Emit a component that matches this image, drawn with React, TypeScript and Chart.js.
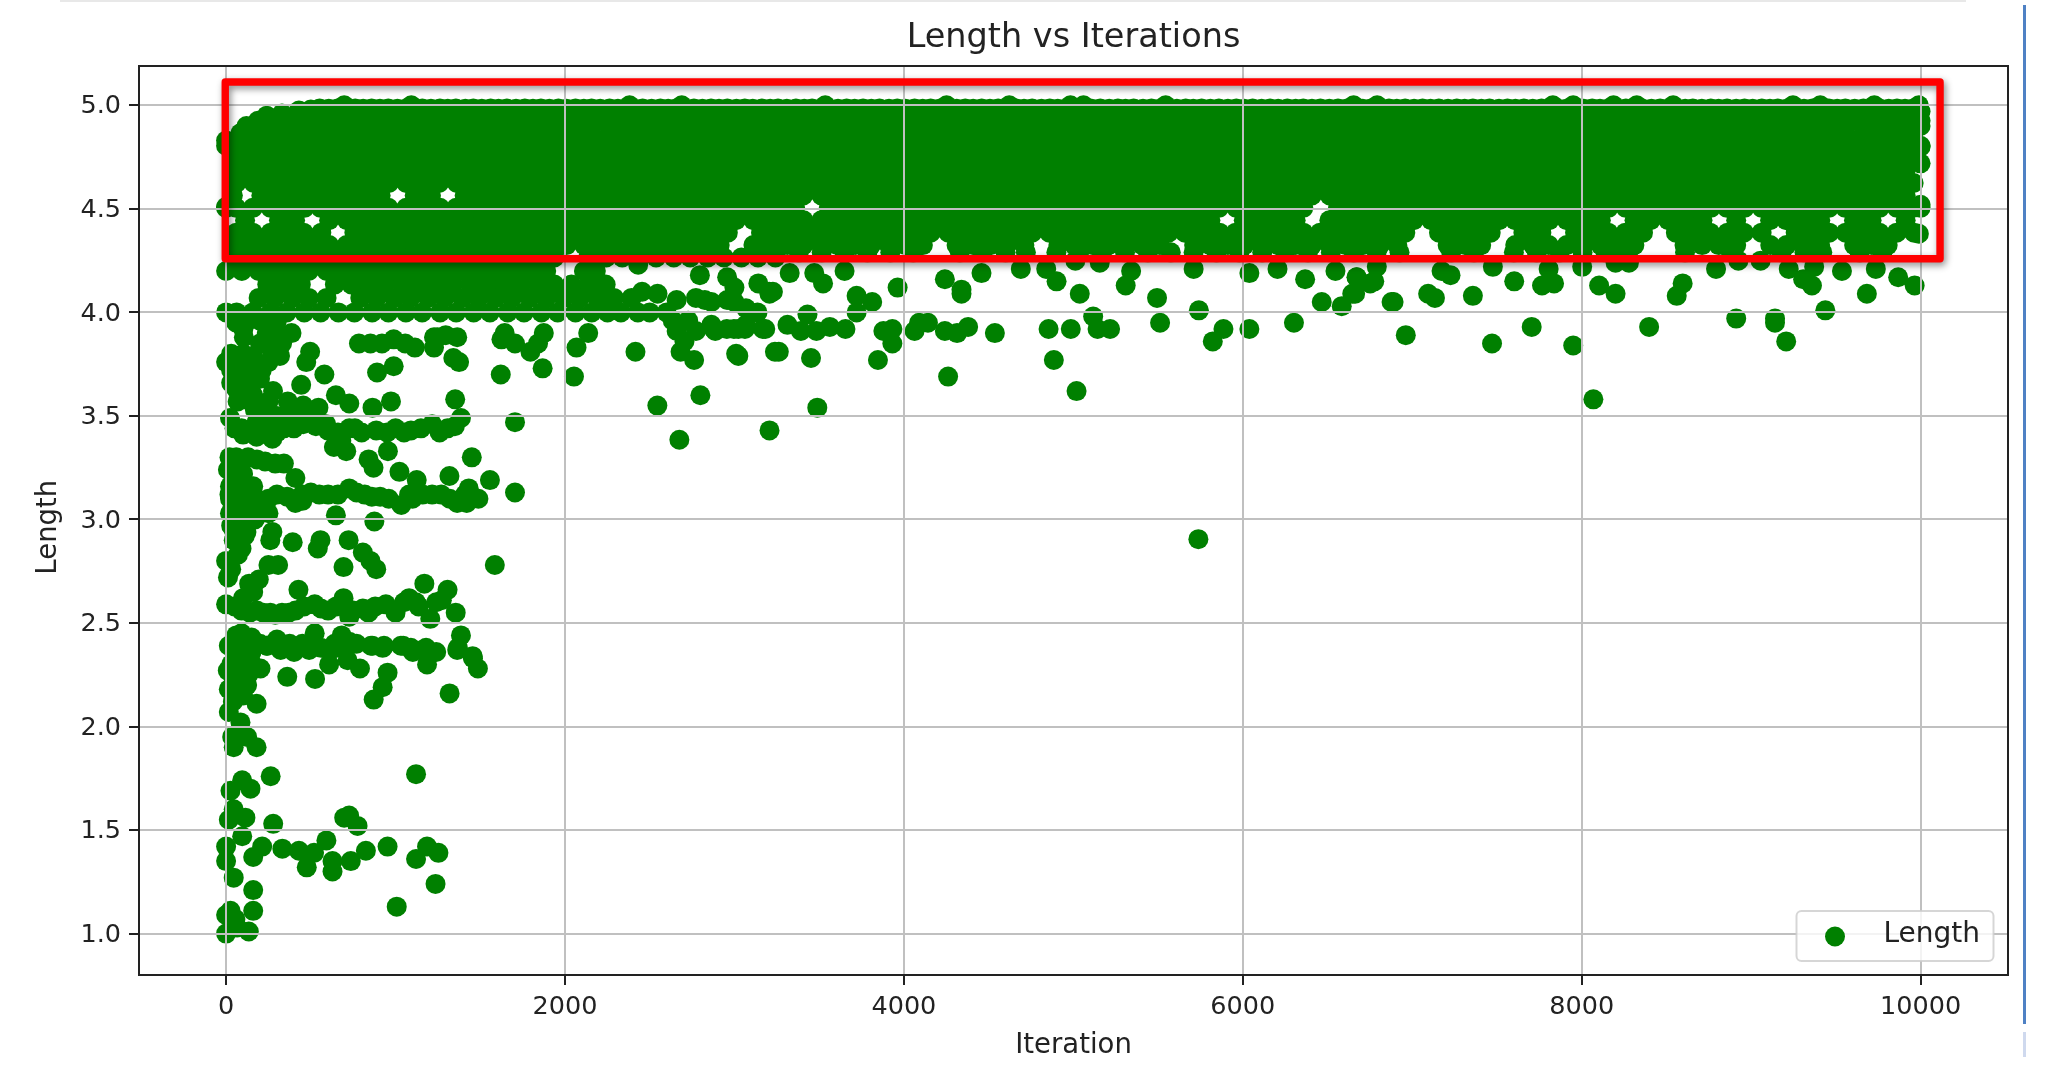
import React, { useEffect, useRef } from "react";
import { Chart, registerables } from "chart.js";

Chart.register(...registerables);

const chartTitle = "Length vs Iterations";
const xAxisLabel = "Iteration";
const yAxisLabel = "Length";
const seriesLabel = "Length";
const iterationTicks = [0, 2000, 4000, 6000, 8000, 10000];
const lengthTicks = [1.0, 1.5, 2.0, 2.5, 3.0, 3.5, 4.0, 4.5, 5.0];

const row4985 = [4.985, 552,658,762,859,957,1063,1158,1262,1356,1459,1561,1657,1763,1858,1961,2062,2157,2263,2359,2458,2563,2656,2761,2862,2958,3061,3162,3257,3363,3458,3557,3662,3759,3856,3961,4063,4158,4257,4362,4459,4556,4663,4757,4861,4958,5062,5159,5263,5356,5461,5558,5663,5757,5859,5962,6058,6161,6263,6357,6458,6562,6659,6757,6863,6958,7061,7157,7263,7358,7456,7562,7659,7763,7857,7959,8062,8158,8261,8357,8463,8559,8656,8762,8858,8961,9063,9157,9258,9362,9459,9556,9663,9758,9861,9957];
const row4984 = [4.984, 606,711,809,908,1011,1112,1209,1308,1412,1509,1608,1711,1811,1908,2009,2111,2208,2312,2409,2511,2609,2708,2811,2909,3012,3108,3211,3309,3412,3508,3611,3709,3808,3912,4009,4111,4208,4312,4409,4508,4611,4709,4812,4908,5011,5109,5212,5308,5411,5509,5611,5708,5809,5912,6008,6111,6209,6312,6408,6511,6609,6708,6812,6909,7011,7108,7211,7309,7408,7512,7609,7711,7808,7909,8012,8108,8211,8309,8412,8508,8611,8709,8808,8912,9009,9111,9208,9312,9409,9508,9611,9709,9812,9908];
const row4925 = [4.925, 188,312,408,513,607,711,806,912,1008,1113,1207,1311,1409,1512,1607,1714,1808,1912,2008,2113,2209,2311,2407,2513,2608,2712,2806,2913,3009,3112,3207,3311,3408,3513,3607,3711,3809,3912,4006,4113,4209,4312,4407,4511,4608,4713,4806,4912,5009,5112,5207,5311,5408,5513,5607,5711,5809,5912,6006,6113,6209,6312,6407,6511,6608,6713,6806,6912,7009,7112,7207,7311,7408,7513,7607,7711,7809,7912,8006,8113,8209,8312,8407,8511,8608,8713,8806,8912,9009,9112,9207,9311,9408,9513,9607,9711,9809,9912,10000];
const row4865 = [4.865, 84,163,258,357,461,563,658,762,859,957,1063,1158,1262,1356,1459,1561,1657,1763,1858,1961,2062,2157,2263,2359,2458,2563,2656,2761,2862,2958,3061,3162,3257,3363,3458,3557,3662,3759,3856,3961,4063,4158,4257,4362,4459,4556,4663,4757,4861,4958,5062,5159,5263,5356,5461,5558,5663,5757,5859,5962,6058,6161,6263,6357,6458,6562,6659,6757,6863,6958,7061,7157,7263,7358,7456,7562,7659,7763,7857,7959,8062,8158,8261,8357,8463,8559,8656,8762,8858,8961,9063,9157,9258,9362,9459,9556,9663,9758,9861,9957];
const row4805 = [4.805, 0,62,112,208,312,407,511,608,713,806,912,1009,1112,1207,1311,1408,1513,1607,1711,1809,1912,2006,2113,2209,2312,2407,2511,2608,2713,2806,2912,3009,3112,3207,3311,3408,3513,3607,3711,3809,3912,4006,4113,4209,4312,4407,4511,4608,4713,4806,4912,5009,5112,5207,5311,5408,5513,5607,5711,5809,5912,6006,6113,6209,6312,6407,6511,6608,6713,6806,6912,7009,7112,7207,7311,7408,7513,7607,7711,7809,7912,8006,8113,8209,8312,8407,8511,8608,8713,8806,8912,9009,9112,9207,9311,9408,9513,9607,9711,9809,9912,10000];
const row4745 = [4.745, 60,158,263,358,457,562,661,757,863,958,1061,1157,1263,1358,1456,1562,1659,1763,1857,1959,2062,2158,2261,2357,2463,2559,2656,2762,2858,2961,3063,3157,3258,3362,3459,3556,3663,3758,3861,3957,4062,4158,4263,4356,4461,4558,4663,4757,4859,4962,5058,5161,5263,5357,5458,5562,5659,5757,5863,5958,6061,6157,6263,6358,6456,6562,6659,6763,6857,6959,7062,7158,7261,7357,7463,7559,7656,7762,7858,7961,8063,8157,8258,8362,8459,8556,8663,8758,8861,8957,9062,9158,9263,9356,9461,9558,9663,9757,9859,9962];
const row4685 = [4.685, 40,113,209,311,407,512,608,711,809,913,1006,1112,1208,1312,1407,1511,1609,1713,1806,1912,2009,2113,2207,2311,2408,2512,2607,2711,2809,2913,3006,3112,3209,3312,3407,3511,3608,3713,3806,3912,4009,4112,4207,4311,4408,4513,4607,4711,4809,4912,5006,5113,5209,5312,5407,5511,5608,5713,5806,5912,6009,6112,6207,6311,6408,6513,6607,6711,6809,6912,7006,7113,7209,7312,7407,7511,7608,7713,7806,7912,8009,8112,8207,8311,8408,8513,8607,8711,8809,8912,9006,9113,9209,9312,9407,9511,9608,9713,9806,9912];
const row4625 = [4.625, 61,163,257,361,458,556,662,759,856,961,1063,1158,1257,1362,1459,1556,1663,1758,1861,1957,2062,2158,2263,2356,2461,2558,2663,2757,2859,2962,3058,3161,3263,3357,3458,3562,3659,3757,3863,3958,4061,4157,4263,4358,4456,4562,4659,4763,4857,4959,5062,5158,5261,5357,5463,5559,5656,5762,5858,5961,6063,6157,6258,6362,6459,6556,6663,6758,6861,6957,7062,7158,7263,7356,7461,7558,7663,7757,7859,7962,8058,8161,8263,8357,8458,8562,8659,8757,8863,8958,9061,9157,9263,9358,9456,9562,9659,9763,9857,9959];
const row4565 = [4.565, 40,208,312,407,513,607,711,809,912,1113,1209,1408,1512,1607,1713,1806,1911,2009,2112,2207,2313,2408,2511,2609,2712,2806,2913,3007,3111,3209,3312,3406,3513,3608,3711,3807,3912,4009,4113,4206,4311,4408,4512,4607,4713,4809,4911,5006,5112,5209,5313,5407,5511,5608,5712,5806,5913,6009,6111,6207,6312,6408,6513,6607,6711,6809,6912,7006,7113,7208,7311,7407,7512,7609,7713,7806,7911,8008,8112,8207,8313,8409,8511,8606,8712,8809,8913,9007,9111,9208,9312,9406,9513,9609,9711,9807,9912];
const row4505 = [4.505, 0,60,158,263,357,462,558,663,757,861,958,1063,1157,1262,1358,1457,1561,1662,1758,1857,1962,2058,2161,2263,2357,2458,2562,2659,2757,2863,2958,3061,3157,3263,3358,3557,3662,3759,3856,3961,4063,4158,4257,4362,4459,4556,4663,4757,4861,4958,5062,5159,5263,5356,5461,5558,5663,5757,5859,5962,6058,6161,6263,6357,6562,6659,6757,6863,6958,7061,7157,7263,7358,7456,7562,7659,7763,7857,7959,8062,8158,8261,8357,8463,8559,8656,8762,8858,8961,9063,9157,9258,9362,9459,9556,9663,9758,9861,9957,10000];
const row4445 = [4.445, 112,312,407,608,713,806,912,1009,1112,1207,1311,1408,1513,1607,1711,1809,1912,2006,2113,2209,2312,2407,2511,2608,2713,2806,2912,3009,3112,3207,3311,3408,3513,3607,3711,3809,3912,4006,4113,4209,4312,4407,4511,4608,4713,4806,4912,5009,5112,5207,5311,5408,5513,5607,5711,5809,6006,6113,6209,6312,6511,6608,6713,6806,6912,7009,7112,7207,7311,7408,7513,7607,7711,7809,7912,8006,8113,8312,8407,8511,8608,8713,8912,9112,9207,9311,9408,9607,9711,9912];
const row4385 = [4.385, 60,158,263,358,457,562,757,863,958,1061,1157,1263,1358,1456,1562,1659,1763,1857,1959,2062,2158,2261,2357,2463,2559,2656,2762,2858,2961,3157,3258,3362,3459,3556,3663,3758,3861,3957,4062,4158,4263,4356,4461,4558,4663,4757,4859,4962,5058,5161,5263,5357,5458,5562,5659,5757,5863,5958,6061,6157,6263,6358,6456,6562,6659,6763,6857,6959,7158,7261,7357,7463,7656,7762,7961,8063,8157,8258,8362,8556,8663,8758,8861,8957,9062,9263,9356,9461,9558,9663,9757,9859,9962];
const row4325 = [4.325, 40,113,209,311,407,512,608,711,809,913,1006,1112,1208,1312,1407,1511,1609,1713,1806,1912,2009,2113,2207,2311,2408,2512,2607,2711,2809,2913,3112,3209,3312,3407,3511,3608,3713,3806,3912,4009,4112,4311,4408,4513,4607,4711,4912,5006,5113,5209,5312,5407,5511,5713,5806,5912,6009,6112,6207,6311,6408,6513,6607,6711,6809,6912,7209,7312,7407,7608,7713,7806,7912,8009,8112,8207,8311,8607,8711,8809,8912,9113,9209,9312,9407,9608,9713,9806];
const row4290 = [4.29, 3110,3245,3380,3515,3650,3785,3920,4055,4330,4465,4600,4720,4900,5035,5170,5305,5440,5575,5710,5845,5980,6115,6250,6385,6520,6655,6790,6925,7230,7365,7600,7735,7870,8005,8140,8275,8610,8880,9180,9315,9420,9640,9775];
const row4265 = [4.265, 42,138,243,339,441,538,642,739,843,938,1041,1139,1242,1337,1442,1538,1641,1739,1843,1937,2138,2243,2338,2441,2538,2642,2739,2843,2938,3041,3139,3242];
const row4200 = [4.2, 0,93,192,287,392,488,593,689,792,888,993,1087,1192,1288,1393,1489,1591,1687,1792,1889,2112];
const row4135 = [4.135, 243,338,441,642,739,843,938,1041,1139,1242,1337,1442,1538,1641,1739,1843,1937,2038,2141,2240];
const row4070 = [4.07, 192,287,392,488,593,792,888,993,1087,1192,1288,1393,1489,1591,1687,1792,1889,1993,2088,2192,2289,2393];
const row4000 = [4.0, 0,62,158,263,358,461,558,663,757,862,958,1061,1157,1263,1358,1461,1557,1662,1758,1861,1957,2062,2158,2251,2330,2430,2500,2600];
const topBumps = [5.0, 697,1093,2381,2689,3536,4252,4622,4983,5060,5545,6654,6793,7830,7950,8188,8325,8540,9247,9408,9727,9990];

// Scattered marks, each [iteration, length].
const upperEdgeLeft = [[0,4.83],[0,4.51],[120,4.9],[240,4.95],[330,4.96],[430,4.975],[500,4.98],[10000,4.97],[10000,4.9],[10000,4.8],[10000,4.72],[10000,4.52],[9990,4.38],[2796,4.18],[2182,4.2],[2432,4.23],[2455,4.1],[2546,4.09],[2659,4.06],[2773,4.07],[2864,4.05],[3000,4.12],[3000,4.05],[3068,4.02],[3136,4.0],[3205,4.1],[2636,3.96],[2727,3.96],[2864,3.94],[2955,3.92],[3068,3.94],[3227,4.1]];
const nearFourLeft = [[784,3.85],[852,3.85],[920,3.85],[989,3.87],[1057,3.85],[1114,3.83],[1227,3.88],[1296,3.89],[1364,3.88],[1227,3.83],[1341,3.78],[1375,3.76],[1625,3.87],[1705,3.85],[1796,3.81],[1875,3.9],[1841,3.85],[2068,3.83],[2137,3.9],[2416,3.81],[2682,3.81],[2762,3.77],[2705,3.86],[2659,3.91],[2773,3.91],[3023,3.79],[3262,3.81],[2887,3.91],[3023,3.92],[3182,3.92],[496,3.81],[473,3.76],[580,3.7],[989,3.74],[891,3.71],[1621,3.7],[1868,3.73],[2053,3.69],[0,3.76],[68,3.79],[159,3.79],[68,3.73],[159,3.73],[68,3.68],[148,3.66],[250,3.76],[318,3.79],[386,3.9],[102,3.92],[295,3.92],[277,3.62],[443,3.65],[105,3.88],[275,3.9],[1248,3.88],[1644,3.9]];
const massNearFour = [[30,3.8],[100,3.8],[30,3.72],[110,3.75],[210,3.72],[110,3.68],[30,3.66],[200,3.68],[100,3.62],[160,3.6],[60,3.63],[200,3.85],[260,3.83],[330,3.85],[130,3.96],[200,3.96],[300,3.96],[240,3.9],[60,3.95]];
const nearThreeFive = [[68,3.57],[23,3.49],[91,3.44],[250,3.57],[364,3.57],[455,3.55],[545,3.54],[648,3.6],[727,3.56],[864,3.54],[973,3.57],[1352,3.58],[250,3.45],[341,3.44],[455,3.46],[591,3.46],[727,3.44],[886,3.43],[1000,3.44],[1091,3.43],[1216,3.46],[1307,3.44],[1386,3.49],[1705,3.47],[273,3.39],[636,3.35],[709,3.33],[841,3.29],[870,3.25],[955,3.33],[1450,3.3]];
const massThreeFive = [[110,3.58],[170,3.53],[230,3.52],[300,3.5],[360,3.5],[430,3.5],[520,3.5],[180,3.47],[300,3.42],[400,3.44],[530,3.45],[50,3.44],[100,3.41],[180,3.4],[600,3.43],[660,3.42],[760,3.44],[800,3.42],[950,3.42],[1050,3.42],[1150,3.44],[1260,3.42],[1350,3.45],[680,3.38],[660,3.4]];
const nearThree = [[11,3.24],[91,3.29],[182,3.29],[341,3.27],[409,3.2],[23,3.16],[23,3.1],[91,3.13],[182,3.1],[250,3.1],[409,3.08],[500,3.13],[602,3.12],[727,3.15],[818,3.12],[909,3.11],[1023,3.23],[1125,3.19],[1318,3.21],[1216,3.12],[1364,3.08],[1432,3.15],[1489,3.1],[1557,3.19],[1705,3.13],[1034,3.07],[648,3.02],[875,2.99],[23,3.03],[114,3.03],[250,3.03],[91,2.97],[273,2.94],[261,2.9],[393,2.89],[557,2.9],[541,2.86],[723,2.9],[807,2.84],[886,2.76],[852,2.8],[693,2.77],[1586,2.78],[0,2.8],[11,2.72],[91,2.86],[45,2.9],[250,2.78],[307,2.78],[136,2.69],[193,2.71],[427,2.66]];
const massThree = [[20,3.3],[60,3.3],[130,3.3],[230,3.28],[290,3.27],[40,3.22],[100,3.22],[50,3.18],[100,3.18],[160,3.16],[60,3.08],[140,3.08],[20,3.12],[60,3.0],[110,2.98],[170,3.0],[220,3.06],[60,2.94],[120,2.94],[30,2.97],[300,3.12],[360,3.11],[450,3.12],[550,3.12],[660,3.12],[770,3.13],[860,3.11],[960,3.1],[1080,3.12],[1160,3.12],[1270,3.12],[1100,3.1],[1320,3.1],[1410,3.12],[450,3.09],[1420,3.08],[45,2.95],[110,2.92],[70,2.83],[30,2.76]];
const nearTwoFive = [[0,2.59],[91,2.56],[182,2.56],[261,2.55],[330,2.55],[409,2.56],[523,2.59],[602,2.56],[693,2.62],[807,2.57],[727,2.53],[943,2.59],[1000,2.55],[1080,2.62],[1136,2.58],[1170,2.69],[1205,2.52],[1273,2.61],[1307,2.66],[1355,2.55],[91,2.45],[23,2.39],[114,2.4],[239,2.39],[375,2.4],[523,2.45],[682,2.44],[727,2.41],[864,2.39],[932,2.39],[1045,2.39],[1159,2.37],[1386,2.44],[1364,2.37],[1455,2.34]];
const massTwoFive = [[50,2.58],[140,2.55],[220,2.55],[290,2.54],[370,2.55],[460,2.58],[560,2.57],[650,2.58],[750,2.56],[880,2.58],[1050,2.6],[1120,2.6],[1240,2.6],[840,2.55],[100,2.62],[160,2.65],[60,2.44],[150,2.43],[60,2.36],[150,2.36],[200,2.4],[300,2.42],[640,2.4],[450,2.4],[560,2.38],[670,2.38],[770,2.4],[1090,2.38],[1240,2.36],[30,2.3],[100,2.28],[60,2.24],[100,2.24],[130,2.25],[40,2.2],[100,2.15],[40,2.12]];
const nearTwo = [[16,2.39],[105,2.39],[243,2.39],[322,2.37],[401,2.36],[490,2.37],[618,2.37],[717,2.4],[855,2.39],[924,2.38],[1032,2.39],[1102,2.36],[1180,2.38],[1368,2.38],[1457,2.33],[1486,2.28],[10,2.27],[65,2.31],[144,2.32],[203,2.28],[361,2.24],[525,2.23],[608,2.3],[717,2.32],[790,2.28],[1186,2.3],[953,2.26],[924,2.19],[871,2.13],[1319,2.16],[16,2.18],[65,2.15],[124,2.2],[180,2.11],[16,2.07],[85,2.02],[36,1.95],[45,1.9],[124,1.95],[180,1.9]];
const lowLeft = [[263,1.76],[1121,1.77],[95,1.74],[26,1.69],[144,1.7],[45,1.6],[16,1.55],[114,1.56],[278,1.53],[726,1.57],[697,1.56],[776,1.52],[95,1.47],[0,1.42],[0,1.35],[45,1.27],[160,1.37],[213,1.42],[332,1.41],[430,1.4],[519,1.39],[476,1.32],[592,1.45],[628,1.35],[628,1.3],[736,1.35],[825,1.4],[953,1.42],[1121,1.36],[1186,1.42],[1253,1.39],[1236,1.24],[160,1.21],[160,1.11],[1007,1.13],[26,1.11],[0,1.09],[55,1.07],[0,1.0],[65,1.03],[134,1.01]];
const middleSparse = [[2957,4.17],[2825,4.06],[2957,4.06],[2878,3.92],[2997,3.92],[3062,3.92],[3168,3.92],[3313,3.94],[3431,3.99],[3392,3.91],[3484,3.91],[3563,3.93],[3655,3.92],[3721,4.08],[3813,4.05],[3721,4.0],[3963,4.12],[3879,3.91],[3932,3.92],[3932,3.85],[4063,3.91],[4090,3.95],[4142,3.95],[4242,3.91],[4314,3.9],[4379,3.93],[4537,3.9],[4854,3.92],[4985,3.92],[5117,3.98],[5143,3.92],[5217,3.92],[5512,3.95],[5741,4.01],[5494,4.07],[5886,3.92],[5823,3.86],[6039,3.92],[6302,3.95],[6466,4.05],[6584,4.03],[6663,4.09],[6776,4.15],[6890,4.05],[6671,4.17],[6547,4.2],[6368,4.16],[6205,4.21],[6039,4.19],[5710,4.21],[5309,4.13],[5341,4.2],[5038,4.09],[4901,4.15],[4840,4.21],[4690,4.21],[4458,4.19],[4340,4.11],[4340,4.09],[4242,4.16],[3326,4.19],[3471,4.19],[3523,4.14],[3650,4.2],[3207,4.09],[3141,4.14],[3010,3.8],[3239,3.81],[3452,3.78],[3847,3.77],[4261,3.69],[4885,3.77],[5019,3.62],[3489,3.54],[3207,3.43],[2799,3.6],[5012,4.25],[5156,4.24],[2675,3.385],[2545,3.55],[5738,2.905]];
const rightSparse = [[6646,4.09],[6752,4.14],[6673,4.17],[6878,4.05],[6791,4.22],[6962,3.89],[7094,4.09],[7134,4.07],[7173,4.2],[7226,4.18],[7358,4.08],[7476,4.22],[7471,3.85],[7602,4.15],[7705,3.93],[7766,4.13],[7805,4.21],[7837,4.14],[7950,3.84],[8003,4.22],[8103,4.13],[8200,4.09],[8069,3.58],[8200,4.24],[8279,4.24],[8398,3.93],[8561,4.08],[8596,4.14],[8793,4.21],[8912,3.97],[9141,3.97],[9141,3.95],[9207,3.86],[9438,4.01],[9222,4.21],[9307,4.16],[9359,4.13],[9372,4.22],[9536,4.2],[9683,4.09],[9736,4.21],[9868,4.17],[9965,4.13],[8925,4.25],[9056,4.25]];

const bandRows = [row4985,row4984,row4925,row4865,row4805,row4745,row4685,row4625,row4565,row4505,row4445,row4385,row4325,row4290,row4265,row4200,row4135,row4070,row4000,topBumps];
const scatterGroups = [upperEdgeLeft,nearFourLeft,massNearFour,nearThreeFive,massThreeFive,nearThree,massThree,nearTwoFive,massTwoFive,nearTwo,lowLeft,middleSparse,rightSparse];

const points = [
  ...bandRows.flatMap(([length, ...iterations]) => iterations.map((x) => ({ x, y: length }))),
  ...scatterGroups.flatMap((group) => group.map(([x, y]) => ({ x, y }))),
];

// Highlight rectangle, in data units.
const highlightIterations = [-5, 10115];
const highlightLengths = [4.259, 5.113];

export default function App() {
  const ref = useRef<HTMLCanvasElement>(null);
  const overlayRef = useRef<HTMLCanvasElement>(null);
  useEffect(() => {
    const frameAndNotes = {
      id: "frameAndNotes",
      beforeDraw(chart: any) {
        const y = chart.scales.y;
        y.getLabelItems(chart.chartArea).forEach((item: any) => {
          item.options.translation = [item.options.translation[0], item.options.translation[1] + 1.5];
        });
        const drawAxisTitle = y.drawTitle;
        y.drawTitle = function () {
          chart.ctx.save();
          chart.ctx.translate(0, 6.7);
          drawAxisTitle.call(y);
          chart.ctx.restore();
        };
      },
      afterDraw(chart: any) {
        const { ctx, chartArea: a, scales } = chart;
        ctx.save();
        ctx.strokeStyle = "#222";
        ctx.lineWidth = 2;
        ctx.strokeRect(a.left, a.top, a.right - a.left, a.bottom - a.top);

        const lx = a.right - 211.5;
        const ly = a.bottom - 64;
        const lw = 197;
        const lh = 50;
        ctx.beginPath();
        ctx.roundRect(lx, ly, lw, lh, 5);
        ctx.fillStyle = "rgba(255,255,255,0.8)";
        ctx.fill();
        ctx.strokeStyle = "rgba(204,204,204,0.8)";
        ctx.lineWidth = 2;
        ctx.stroke();
        ctx.beginPath();
        ctx.arc(lx + 38.5, ly + 25.5, 10, 0, Math.PI * 2);
        ctx.fillStyle = "#008000";
        ctx.fill();
        ctx.fillStyle = "#222";
        ctx.font = '28px "DejaVu Sans"';
        ctx.textAlign = "left";
        ctx.textBaseline = "middle";
        ctx.fillText(seriesLabel, lx + 87, ly + 24);
        ctx.restore();

        const o = (overlayRef.current as HTMLCanvasElement).getContext("2d") as CanvasRenderingContext2D;
        const x0 = scales.x.getPixelForValue(highlightIterations[0]);
        const x1 = scales.x.getPixelForValue(highlightIterations[1]);
        const y0 = scales.y.getPixelForValue(highlightLengths[1]);
        const y1 = scales.y.getPixelForValue(highlightLengths[0]);
        o.clearRect(0, 0, 2048, 1066);
        o.shadowColor = "rgba(0,0,0,0.45)";
        o.shadowBlur = 7;
        o.shadowOffsetX = 2;
        o.shadowOffsetY = 3;
        o.strokeStyle = "#ff0000";
        o.lineWidth = 7.4;
        o.lineJoin = "round";
        o.strokeRect(x0, y0, x1 - x0, y1 - y0);
      },
    };
    const chart = new Chart(ref.current as HTMLCanvasElement, {
      type: "scatter",
      data: {
        datasets: [
          {
            label: seriesLabel,
            data: points,
            backgroundColor: "#008000",
            borderWidth: 0,
            pointRadius: 10,
          },
        ],
      },
      options: {
        responsive: false,
        animation: false,
        layout: { padding: { right: 40 } },
        plugins: {
          legend: { display: false },
          tooltip: { enabled: false },
          title: {
            display: true,
            text: chartTitle,
            color: "#222",
            fullSize: false,
            font: { family: "DejaVu Sans", size: 33.5, weight: "normal" },
            padding: { top: 18, bottom: 7.8 },
          },
        },
        scales: {
          x: {
            type: "linear",
            min: -514,
            max: 10516,
            afterFit: (s: any) => { s.height = 91; },
            afterBuildTicks: (s: any) => { s.ticks = iterationTicks.map((value) => ({ value })); },
            grid: { z: 1, color: "#c0c0c0", lineWidth: 2, tickColor: "#222", tickWidth: 2, tickLength: 10 },
            border: { display: false },
            ticks: {
              color: "#222",
              font: { family: "DejaVu Sans", size: 25.5 },
              padding: 7.5,
              maxRotation: 0,
              callback: (v: any) => String(v),
            },
            title: {
              display: true,
              text: xAxisLabel,
              color: "#222",
              font: { family: "DejaVu Sans", size: 27.5 },
              padding: { top: 0, bottom: 3.5 },
            },
          },
          y: {
            type: "linear",
            min: 0.8,
            max: 5.19,
            afterFit: (s: any) => { s.width = 139; },
            afterBuildTicks: (s: any) => { s.ticks = lengthTicks.map((value) => ({ value })); },
            grid: { z: 1, color: "#c0c0c0", lineWidth: 2, tickColor: "#222", tickWidth: 2, tickLength: 10 },
            border: { display: false },
            ticks: {
              color: "#222",
              font: { family: "DejaVu Sans", size: 25.5 },
              padding: 8,
              callback: (v: any) => Number(v).toFixed(1),
            },
            title: {
              display: true,
              text: yAxisLabel,
              color: "#222",
              font: { family: "DejaVu Sans", size: 27.5 },
              padding: { top: 32, bottom: 0 },
            },
          },
        },
      },
      plugins: [frameAndNotes],
    } as any);
    return () => chart.destroy();
  }, []);

  return (
    <div style={{ position: "fixed", left: 0, top: 0, width: 2048, height: 1066, background: "#fff", overflow: "hidden" }}>
      <div style={{ position: "absolute", left: 60, top: 0, width: 1906, height: 2, background: "#e8e8e8" }} />
      <div style={{ position: "absolute", left: 2023, top: 5, width: 3, height: 1019, background: "#4f81c4" }} />
      <div style={{ position: "absolute", left: 2023, top: 1032, width: 3, height: 25, background: "#cfd9ee" }} />
      <canvas ref={ref} width={2048} height={1066} style={{ position: "absolute", left: 0, top: 0, width: 2048, height: 1066, filter: "blur(0.6px)" }} />
      <canvas ref={overlayRef} width={2048} height={1066} style={{ position: "absolute", left: 0, top: 0, width: 2048, height: 1066 }} />
    </div>
  );
}
